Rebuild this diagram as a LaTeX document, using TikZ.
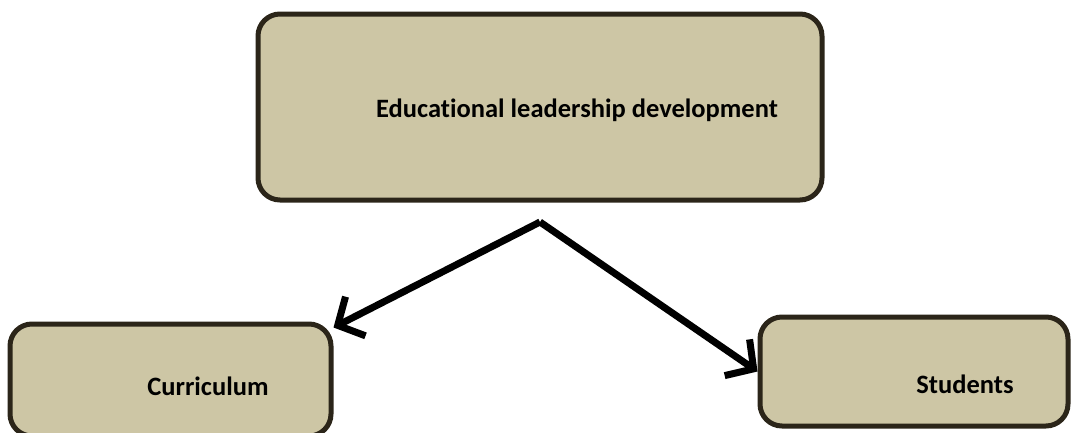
\documentclass[tikz,border=0pt]{standalone}
\usepackage{fontspec}
\setmainfont{Carlito}[Ligatures=NoCommon]
\usetikzlibrary{arrows.meta}
\definecolor{boxfill}{RGB}{205,198,165}
\definecolor{boxline}{RGB}{43,37,25}
\begin{document}
\begin{tikzpicture}[x=1pt,y=-1pt,
  box/.style={draw=boxline,fill=boxfill,line width=5pt,rounded corners=22pt,inner sep=0pt},
  lbl/.style={font=\fontsize{26.5}{30}\selectfont\bfseries},
  link/.style={line width=7pt,-{Straight Barb[length=20pt,width=44pt]}}]
\clip (0,0) rectangle (1072,432);

% Top box with its label
\node[box,minimum width=564,minimum height=186] (lead) at (540,107) {};
\node[lbl] (leadtxt) at (577,110) {Educational leadership development};

% Bottom left box, cut off at the lower edge
\node[box,minimum width=321,minimum height=112] (cur) at (170.5,380) {};
\node[lbl] (curtxt) at (208,386) {Curriculum};

% Bottom right box
\node[box,minimum width=308,minimum height=109] (stu) at (914,371.5) {};
\node[lbl] (stutxt) at (965,384) {Students};

% Arrows from the fork below the top box
\coordinate (fork) at (540,222);
\draw[link] (fork) -- ([yshift=-6pt]cur.north east);
\draw[link] (fork) -- (stu.west);

\end{tikzpicture}
\end{document}
